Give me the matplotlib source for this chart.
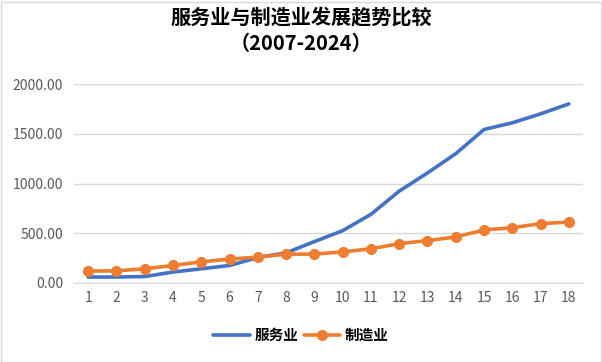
import numpy as np
import matplotlib
matplotlib.use("Agg")
import matplotlib.pyplot as plt
from matplotlib.patches import Rectangle

plt.rcParams['font.family'] = ['Noto Sans CJK SC', 'DejaVu Sans']

# data
years_idx = list(range(1, 19))
service = [60, 60, 65, 110, 143, 176, 256, 303, 416, 526,
           690, 923, 1106, 1300, 1543, 1610, 1700, 1800]
manufacturing = [120, 122, 143, 176, 213, 240, 260, 290, 290, 313,
                 343, 396, 426, 463, 533, 556, 596, 613]
series_names = ['服务业', '制造业']
title = '服务业与制造业发展趋势比较\n（2007-2024）'

fig = plt.figure(figsize=(6.02, 3.62), dpi=100)
ax = fig.add_axes([74 / 602, 1 - 283 / 362, 509 / 602, 199 / 362])

blue = '#4472C4'
orange = '#ED7D31'
ax.plot(years_idx, service, color=blue, lw=2.6, label=series_names[0],
        solid_capstyle='round', solid_joinstyle='round', zorder=3)
ax.plot(years_idx, manufacturing, color=orange, lw=2.6, marker='o', ms=7,
        label=series_names[1], solid_capstyle='round', zorder=4)

ax.set_xlim(0.5, 18.5)
ax.set_ylim(0, 2000)
ax.set_yticks(np.arange(0, 2001, 500))
ax.set_yticklabels([f'{v:.2f}' for v in np.arange(0, 2001, 500)])
ax.set_xticks(years_idx)
ax.set_xticklabels([str(i) for i in years_idx])
ax.grid(axis='y', color='#D9D9D9', lw=1)
ax.set_axisbelow(True)
for s in ['top', 'right', 'left']:
    ax.spines[s].set_visible(False)
ax.spines['bottom'].set_color('#D9D9D9')
ax.tick_params(axis='both', length=0, colors='#595959', labelsize=10)
ax.tick_params(axis='y', pad=8)
ax.tick_params(axis='x', pad=6)

fig.text(0.5, 1 - 31 / 362, title, ha='center', va='center', fontsize=14.5,
         fontweight='bold', color='black', linespacing=1.25)

leg = fig.legend(loc='center', bbox_to_anchor=(0.5, 1 - 335 / 362), ncol=2,
                 frameon=False, fontsize=10.5, handlelength=2.5,
                 columnspacing=0.4, handletextpad=0.3)
for t in leg.get_texts():
    t.set_fontweight('bold')
    t.set_color('black')

# chart area border
fig.patches.append(Rectangle((0.5 / 602, 0.5 / 362), 600 / 602, 360 / 362,
                             transform=fig.transFigure, fill=False,
                             edgecolor='#D9D9D9', lw=1))

fig.savefig('out.png', dpi=100)
